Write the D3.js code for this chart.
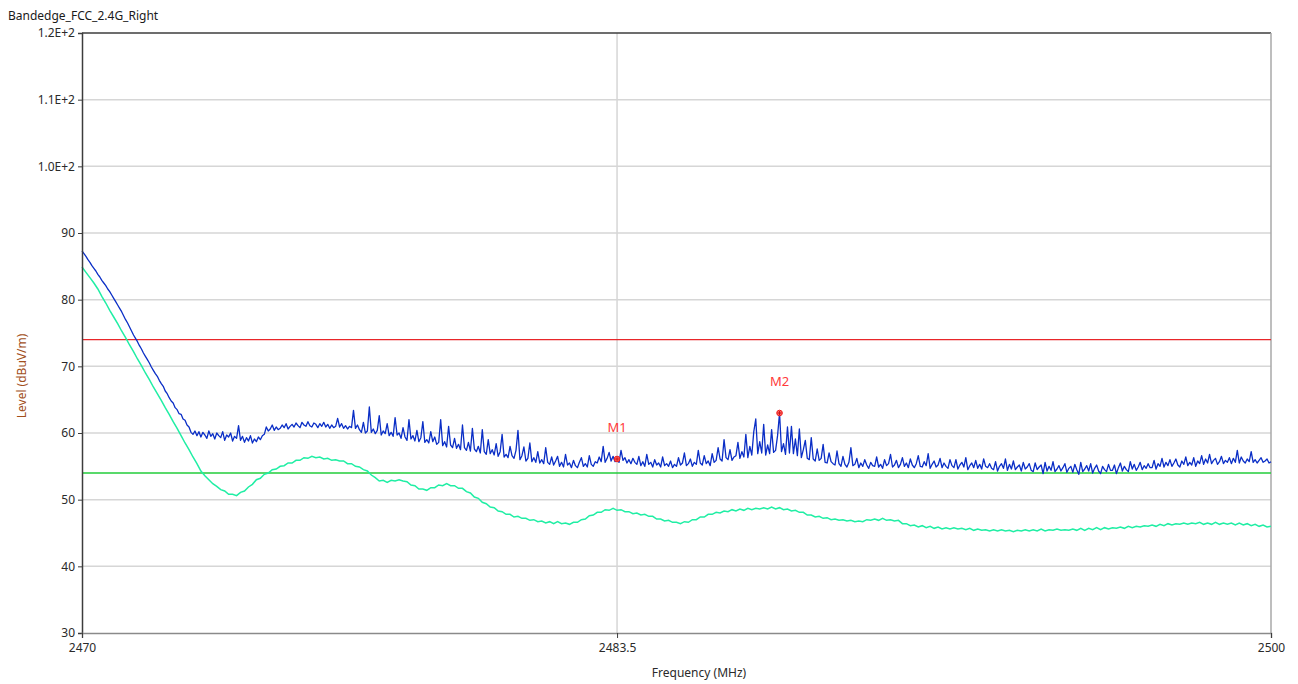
<!DOCTYPE html>
<html>
<head>
<meta charset="utf-8">
<script src="https://cdn.jsdelivr.net/npm/d3@7"></script>
<style>
  html, body { margin: 0; padding: 0; background: #fff; }
  svg { display: block; font-family: "Noto Sans", "Open Sans", sans-serif; }
</style>
</head>
<body>
<svg id="chart" width="1298" height="684"></svg>
<script>
// Sweep start; the peak trace is sampled every 0.05 MHz, the average trace every 0.1 MHz
const sweepStartMHz = 2470;
const peakStepMHz = 0.05;
const avgStepMHz = 0.1;

// Peak detector trace (dBuV/m), 2470.00 .. 2500.00 MHz, one row per 0.5 MHz
const peakLevels = [
  87.3, 86.9, 86.5, 86.0, 85.6, 85.1, 84.7, 84.3, 83.8, 83.4,
  82.9, 82.5, 82.1, 81.6, 81.2, 80.7, 80.2, 79.7, 79.2, 78.7,
  78.2, 77.6, 77.0, 76.5, 75.9, 75.3, 74.7, 74.2, 73.7, 73.1,
  72.6, 72.0, 71.5, 71.0, 70.5, 69.9, 69.4, 68.9, 68.5, 67.9,
  67.4, 67.0, 66.3, 65.9, 65.3, 64.8, 64.5, 63.8, 63.5, 62.9,
  62.8, 62.1, 61.9, 61.2, 60.9, 60.1, 59.8, 60.3, 59.6, 60.2,
  59.4, 60.1, 59.7, 59.2, 60.3, 59.5, 59.9, 59.1, 60.0, 59.6,
  59.3, 60.2, 58.9, 59.7, 59.4, 60.0, 58.8, 59.5, 59.2, 61.1,
  58.9, 59.5, 58.6, 59.3, 58.8, 59.6, 58.5, 59.1, 58.7, 59.4,
  59.0, 59.6, 59.8, 60.9, 60.3, 60.6, 61.2, 60.4, 60.9, 60.5,
  60.7, 61.2, 60.8, 61.4, 60.6, 61.0, 61.3, 60.9, 61.5, 61.1,
  60.8, 61.6, 61.2, 61.0, 61.7, 61.1, 60.9, 61.5, 61.3, 60.8,
  61.4, 61.0, 61.6, 60.9, 61.3, 60.7, 61.2, 60.8, 61.0, 62.2,
  60.9, 61.4, 60.7, 61.1, 60.6, 61.0, 60.8, 63.4, 60.7, 61.2,
  60.5, 60.1, 61.6, 60.0, 60.3, 63.9, 60.1, 60.6, 59.9, 60.4,
  62.6, 59.7, 60.3, 59.9, 61.4, 59.6, 60.1, 59.5, 62.3, 59.7,
  60.0, 59.2, 60.8, 59.4, 58.9, 62.0, 59.1, 59.6, 58.8, 60.4,
  58.7, 59.3, 61.7, 58.6, 59.0, 58.5, 60.2, 58.7, 59.4, 58.3,
  58.6, 62.0, 58.1, 58.7, 57.9, 61.0, 58.2, 57.8, 59.2, 57.7,
  58.3, 57.5, 61.2, 57.8, 57.4, 58.6, 57.3, 60.7, 57.6, 57.2,
  58.0, 57.0, 60.5, 57.2, 56.8, 59.0, 56.9, 57.5, 56.7, 58.4,
  56.5, 57.2, 59.8, 56.4, 56.8, 56.3, 58.0, 56.6, 56.2, 57.4,
  60.4, 56.0, 56.6, 57.9, 55.8, 56.2, 58.5, 55.7, 56.3, 55.6,
  57.2, 55.5, 56.0, 55.4, 57.8, 55.6, 55.3, 56.4, 55.2, 55.8,
  56.5, 55.0, 55.6, 54.9, 56.8, 55.2, 55.5, 54.8, 55.9, 55.1,
  54.8, 55.6, 56.3, 55.0, 55.4, 54.9, 56.6, 55.3, 55.0, 55.7,
  55.5, 56.4, 55.7, 58.0, 55.6, 56.2, 57.1, 55.8, 56.5, 55.7,
  56.1, 55.6, 57.4, 55.9, 56.3, 55.5, 56.0, 55.4, 56.2, 55.6,
  55.3, 56.5, 55.1, 55.7, 55.0, 56.8, 55.3, 55.6, 54.9, 56.0,
  55.2, 55.5, 54.9, 56.4, 55.1, 55.4, 55.0, 55.8, 54.8, 55.3,
  55.0, 56.3, 55.2, 55.5, 57.0, 55.1, 55.4, 56.1, 55.0, 55.6,
  55.3, 57.4, 55.5, 55.2, 56.6, 55.4, 55.8, 55.1, 56.9, 55.6,
  55.9, 57.8, 56.1, 55.8, 59.0, 56.3, 56.0, 57.5, 55.9, 56.4,
  56.6, 58.6, 56.2, 57.2, 56.4, 59.8, 56.3, 58.0, 56.7, 60.2,
  62.1, 56.9, 58.7, 57.0, 61.3, 56.7, 58.2, 56.9, 60.5, 57.1,
  57.4, 59.6, 63.0, 57.2, 58.4, 56.8, 60.9, 57.0, 61.0, 56.9,
  59.1, 56.6, 60.6, 56.3, 57.5, 58.9, 56.2, 56.0, 59.3, 56.1,
  55.8, 57.6, 55.9, 56.2, 58.3, 55.6, 55.5, 57.0, 55.7, 55.4,
  55.2, 57.3, 55.4, 55.0, 56.5, 55.3, 54.9, 55.6, 57.8, 55.1,
  55.3, 56.2, 54.8, 55.5, 55.0, 56.0, 55.2, 54.7, 55.6, 55.1,
  55.0, 56.4, 54.9, 55.3, 54.7, 56.0, 55.1, 55.4, 56.8, 54.9,
  55.2, 55.9, 54.8, 55.3, 56.3, 55.0, 55.5, 54.8, 56.1, 55.2,
  54.8, 55.4, 56.6, 55.0, 54.9, 55.7, 55.1, 56.9, 54.7, 55.3,
  55.8, 54.9, 55.2, 56.2, 54.8, 55.5, 55.0, 54.7, 56.0, 55.1,
  54.8, 56.0, 54.6, 55.2, 55.6, 54.9, 56.3, 54.5, 55.1, 55.5,
  54.8, 55.9, 54.7, 55.3, 54.6, 56.1, 55.0, 54.8, 55.4, 54.7,
  54.5, 55.7, 54.3, 55.0, 55.4, 54.7, 56.1, 54.4, 55.3, 54.6,
  55.8, 54.5, 54.9, 55.2, 54.3, 55.6, 54.6, 54.9, 55.4, 54.4,
  54.2, 55.5, 54.5, 54.9, 55.2, 53.9, 55.6, 54.3, 55.0, 54.4,
  55.7, 54.2, 54.6, 55.1, 54.3, 54.8, 55.4, 54.1, 54.7, 55.0,
  54.1, 55.3, 54.5, 53.8, 55.6, 54.2, 54.6, 55.1, 54.3, 55.4,
  54.0, 54.7, 55.2, 54.3, 53.9, 55.0, 54.5, 54.2, 55.3, 54.4,
  54.4, 55.2, 53.9, 54.8, 55.5, 54.3, 55.0, 54.5, 54.2, 55.7,
  54.6, 55.3, 54.4, 54.9, 55.6, 54.5, 55.1, 54.7, 55.4, 54.8,
  54.8, 55.9, 54.6, 55.4, 55.0, 56.2, 54.9, 55.6, 55.1, 56.0,
  55.0, 55.5, 56.1, 55.2, 54.9, 55.8, 55.3, 56.4, 55.1, 55.6,
  55.2, 56.3, 55.0, 55.8, 55.4, 56.6, 55.3, 56.1, 55.5, 56.8,
  55.4, 55.9, 56.2, 55.3, 55.7, 56.5, 55.4, 55.9, 55.6, 56.3,
  55.4, 56.2, 55.6, 57.4, 55.5, 56.4, 55.8, 55.5, 56.1, 55.7,
  57.2, 55.6, 56.0, 55.5, 55.9, 56.3, 55.6, 55.8, 56.1, 55.5,
  55.7
];

// Average detector trace (dBuV/m), 2470.0 .. 2500.0 MHz, one row per MHz
const avgLevels = [
  84.9, 84.1, 83.3, 82.5, 81.6, 80.5, 79.5, 78.4, 77.4, 76.4,
  75.3, 74.3, 73.2, 72.2, 71.1, 70.1, 69.0, 68.0, 66.9, 65.9,
  64.9, 63.8, 62.8, 61.7, 60.7, 59.6, 58.5, 57.5, 56.4, 55.4,
  54.3, 53.6, 53.0, 52.4, 52.0, 51.5, 51.3, 50.8, 50.8, 50.6,
  51.1, 51.3, 51.9, 52.3, 53.0, 53.2, 53.8, 54.0, 54.5, 54.6,
  55.0, 55.1, 55.5, 55.5, 55.9, 55.9, 56.3, 56.2, 56.5, 56.3,
  56.4, 56.1, 56.2, 55.9, 56.0, 55.8, 55.8, 55.4, 55.4, 55.0,
  54.9, 54.5, 54.3, 53.7, 53.3, 52.8, 52.9, 52.6, 52.9, 52.8,
  53.0, 52.8, 52.7, 52.2, 52.1, 51.6, 51.6, 51.4, 51.8, 51.8,
  52.2, 52.1, 52.4, 52.1, 52.1, 51.7, 51.7, 51.2, 51.0, 50.4,
  50.2, 49.6, 49.4, 48.9, 48.8, 48.3, 48.2, 47.8, 47.8, 47.4,
  47.5, 47.2, 47.2, 46.9, 47.0, 46.7, 46.8, 46.5, 46.7, 46.4,
  46.7, 46.4, 46.5, 46.3, 46.6, 46.6, 47.0, 47.1, 47.6, 47.7,
  48.1, 48.1, 48.5, 48.4, 48.7, 48.4, 48.5, 48.2, 48.2, 47.9,
  48.0, 47.7, 47.8, 47.5, 47.5, 47.1, 47.1, 46.8, 46.9, 46.6,
  46.6, 46.4, 46.7, 46.6, 47.0, 47.0, 47.4, 47.4, 47.8, 47.8,
  48.1, 48.0, 48.3, 48.2, 48.5, 48.3, 48.6, 48.4, 48.7, 48.5,
  48.7, 48.6, 48.8, 48.6, 48.9, 48.6, 48.8, 48.5, 48.6, 48.3,
  48.4, 48.1, 48.1, 47.7, 47.7, 47.4, 47.5, 47.2, 47.3, 47.0,
  47.1, 46.9, 47.0, 46.8, 46.9, 46.7, 46.8, 46.7, 47.0, 46.9,
  47.1, 46.9, 47.2, 46.9, 47.0, 46.8, 46.9, 46.4, 46.4, 46.1,
  46.2, 45.9, 46.1, 45.8, 46.0, 45.7, 45.9, 45.6, 45.8, 45.6,
  45.8, 45.6, 45.7, 45.5, 45.7, 45.4, 45.6, 45.4, 45.5, 45.3,
  45.5, 45.3, 45.5, 45.3, 45.4, 45.2, 45.4, 45.3, 45.5, 45.3,
  45.5, 45.3, 45.6, 45.3, 45.5, 45.4, 45.6, 45.4, 45.5, 45.4,
  45.6, 45.4, 45.7, 45.4, 45.7, 45.5, 45.8, 45.5, 45.8, 45.6,
  45.8, 45.7, 45.9, 45.7, 46.0, 45.8, 46.0, 45.9, 46.1, 46.0,
  46.2, 46.0, 46.3, 46.1, 46.4, 46.2, 46.4, 46.3, 46.5, 46.3,
  46.5, 46.4, 46.6, 46.3, 46.5, 46.3, 46.6, 46.3, 46.5, 46.3,
  46.5, 46.2, 46.5, 46.2, 46.4, 46.1, 46.3, 46.0, 46.2, 45.9,
  46.0
];

// Limit lines (dBuV/m)
const peakLimit = 74;
const avgLimit = 54;

// Markers on the peak trace
const markerNames = ["M1", "M2"];
const markerFreqs = [2483.5, 2487.6];
const markerLevels = [56.1, 63.0];

// Axis ticks
const yTickValues = [30, 40, 50, 60, 70, 80, 90, 100, 110, 120];
const yTickLabels = ["30", "40", "50", "60", "70", "80", "90", "1.0E+2", "1.1E+2", "1.2E+2"];
const xTickValues = [2470, 2483.5, 2500];
const xTickLabels = ["2470", "2483.5", "2500"];

const chartTitle = "Bandedge_FCC_2.4G_Right";
const xTitle = "Frequency (MHz)";
const yTitle = "Level (dBuV/m)";

// ---- layout ----
const plot = { left: 82, right: 1271, top: 33, bottom: 633 };

const svg = d3.select("#chart");

const x = d3.scaleLinear().domain([2470, 2500]).range([plot.left, plot.right]);
const y = d3.scaleLinear().domain([30, 120]).range([plot.bottom, plot.top]);

// Horizontal grid lines
svg.append("g")
  .selectAll("line")
  .data(yTickValues.filter(v => v > 30 && v < 120))
  .join("line")
  .attr("x1", plot.left).attr("x2", plot.right)
  .attr("y1", d => y(d)).attr("y2", d => y(d))
  .attr("stroke", "#d6d6d6").attr("stroke-width", 1.5);

// Vertical grid at the band edge
svg.append("line")
  .attr("x1", x(2483.5)).attr("x2", x(2483.5))
  .attr("y1", plot.top).attr("y2", plot.bottom)
  .attr("stroke", "#d6d6d6").attr("stroke-width", 1.5);

// Frame: top dark, right light
svg.append("line")
  .attr("x1", plot.left).attr("x2", plot.right)
  .attr("y1", plot.top).attr("y2", plot.top)
  .attr("stroke", "#3c3c3c").attr("stroke-width", 1.5);
svg.append("line")
  .attr("x1", plot.right).attr("x2", plot.right)
  .attr("y1", plot.top).attr("y2", plot.bottom)
  .attr("stroke", "#a8a8a8").attr("stroke-width", 1.5);

// Limit lines
svg.append("line")
  .attr("x1", plot.left).attr("x2", plot.right)
  .attr("y1", y(peakLimit)).attr("y2", y(peakLimit))
  .attr("stroke", "#e8262a").attr("stroke-width", 1.2);
svg.append("line")
  .attr("x1", plot.left).attr("x2", plot.right)
  .attr("y1", y(avgLimit)).attr("y2", y(avgLimit))
  .attr("stroke", "#22cc3a").attr("stroke-width", 1.4);

// Traces
const traceLine = step => d3.line()
  .x((d, i) => x(sweepStartMHz + i * step))
  .y(d => y(d));

svg.append("path")
  .datum(avgLevels)
  .attr("d", traceLine(avgStepMHz))
  .attr("fill", "none")
  .attr("stroke", "#20eea4")
  .attr("stroke-width", 1.5);

svg.append("path")
  .datum(peakLevels)
  .attr("d", traceLine(peakStepMHz))
  .attr("fill", "none")
  .attr("stroke", "#0a2ec6")
  .attr("stroke-width", 1.3)
  .attr("stroke-linejoin", "round");

// Y axis
const yAxis = d3.axisLeft(y)
  .tickValues(yTickValues)
  .tickFormat((d, i) => yTickLabels[i])
  .tickSize(4)
  .tickPadding(3);
const gy = svg.append("g")
  .attr("transform", `translate(${plot.left},0)`)
  .call(yAxis);
gy.select(".domain").attr("stroke", "#3c3c3c").attr("stroke-width", 1.5);
gy.selectAll(".tick line").attr("stroke", "#3c3c3c");
gy.selectAll(".tick text")
  .attr("fill", "#2a2a2a")
  .style("font-size", "12px")
  .style("font-family", "'Noto Sans', sans-serif");

// X axis
const xAxis = d3.axisBottom(x)
  .tickValues(xTickValues)
  .tickFormat((d, i) => xTickLabels[i])
  .tickSize(5)
  .tickPadding(5);
const gx = svg.append("g")
  .attr("transform", `translate(0,${plot.bottom})`)
  .call(xAxis);
gx.select(".domain").attr("stroke", "#8a8a8a").attr("stroke-width", 1.5);
gx.selectAll(".tick line").attr("stroke", "#3c3c3c");
gx.selectAll(".tick text")
  .attr("fill", "#2a2a2a")
  .style("font-size", "12px")
  .style("font-family", "'Noto Sans', sans-serif");

// Markers
const markers = markerNames.map((n, i) => ({ name: n, f: markerFreqs[i], v: markerLevels[i] }));
const mg = svg.append("g").selectAll("g").data(markers).join("g")
  .attr("transform", d => `translate(${x(d.f)},${y(d.v)})`);
mg.append("circle").attr("r", 2.8)
  .attr("fill", "#ff6a6a").attr("stroke", "#ee1c1c").attr("stroke-width", 1);
mg.append("path").attr("d", "M-2,0H2M0,-2V2")
  .attr("stroke", "#c40000").attr("stroke-width", 0.8);
mg.append("text")
  .attr("y", -27)
  .attr("text-anchor", "middle")
  .attr("fill", "#ff3a3a")
  .style("font-size", "13px")
  .text(d => d.name);

// Titles
svg.append("text")
  .attr("x", 8).attr("y", 20)
  .attr("fill", "#1a1a1a")
  .style("font-size", "12px")
  .text(chartTitle);

svg.append("text")
  .attr("x", 699).attr("y", 677)
  .attr("text-anchor", "middle")
  .attr("fill", "#2a2a2a")
  .style("font-size", "12px")
  .text(xTitle);

svg.append("text")
  .attr("transform", "translate(26,376) rotate(-90)")
  .attr("text-anchor", "middle")
  .attr("fill", "#a24f1c")
  .style("font-size", "12px")
  .text(yTitle);
</script>
</body>
</html>
